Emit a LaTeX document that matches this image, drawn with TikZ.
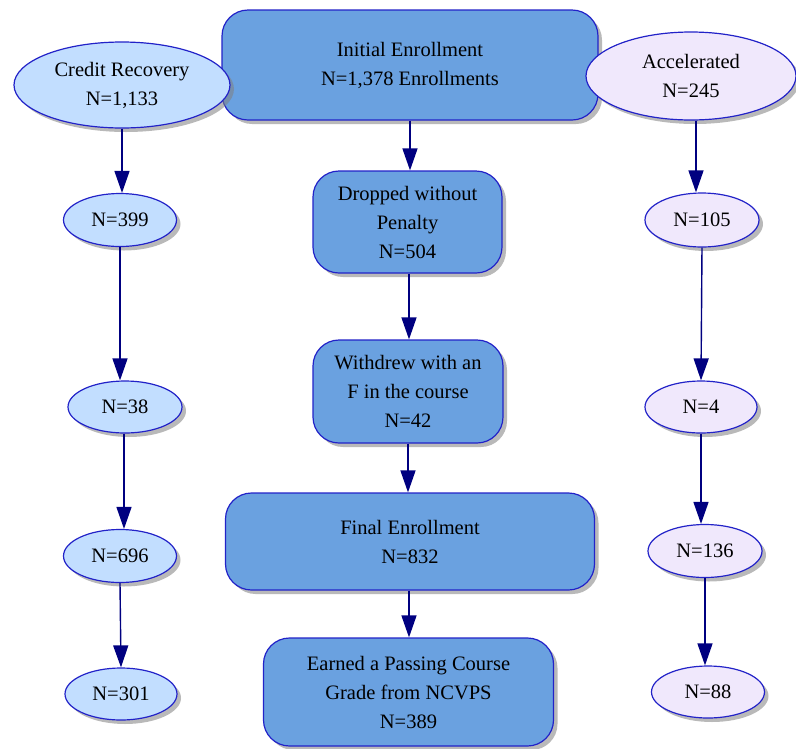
\documentclass[tikz,border=0pt]{standalone}
\usepackage{fontspec}
\setmainfont{Liberation Serif}
\usetikzlibrary{shapes.geometric,arrows.meta,shadows}
\definecolor{boxfill}{HTML}{6AA1E0}
\definecolor{edgeblue}{HTML}{2222C8}
\definecolor{lightL}{HTML}{C2DEFF}
\definecolor{lightR}{HTML}{F0E8FC}
\definecolor{navyline}{HTML}{000080}
\begin{document}
\begin{tikzpicture}[x=1pt,y=-1pt,
  base/.style={draw=edgeblue, line width=1.2pt, align=center, inner sep=0pt,
    font=\fontsize{20.5}{29}\selectfont,
    drop shadow={shadow xshift=4pt,shadow yshift=-4pt,fill=black!50,opacity=0.55}},
  box/.style={base, rectangle, rounded corners=26pt, fill=boxfill},
  ovalL/.style={base, ellipse, fill=lightL},
  ovalR/.style={base, ellipse, fill=lightR},
  flow/.style={draw=navyline, line width=1.4pt, -{Triangle[width=15pt,length=22pt]}}]
\useasboundingbox (0,0) rectangle (796,748);

% centre column
\node[box, minimum width=376pt, minimum height=110pt] (init) at (410,65) {Initial Enrollment\\N=1,378 Enrollments};
\node[box, minimum width=189pt, minimum height=102pt] (drop) at (407.5,222) {Dropped without\\Penalty\\N=504};
\node[box, minimum width=190pt, minimum height=103pt] (withdrew) at (408,391.5) {Withdrew with an\\F in the course\\N=42};
\node[box, minimum width=369pt, minimum height=97pt] (final) at (410,541.5) {Final Enrollment\\N=832};
\node[box, minimum width=290pt, minimum height=108pt] (earned) at (408.5,692) {Earned a Passing Course\\Grade from NCVPS\\N=389};

% left column
\node[ovalL, minimum width=216pt, minimum height=86pt] (cr) at (122,85) {Credit Recovery\\N=1,133};
\node[ovalL, minimum width=113pt, minimum height=53pt] (l1) at (120,220) {N=399};
\node[ovalL, minimum width=114pt, minimum height=52pt] (l2) at (125,407) {N=38};
\node[ovalL, minimum width=113pt, minimum height=53pt] (l3) at (120,556) {N=696};
\node[ovalL, minimum width=112pt, minimum height=52pt] (l4) at (121,694) {N=301};

% right column
\node[ovalR, minimum width=210pt, minimum height=88pt] (acc) at (691,76) {Accelerated\\N=245};
\node[ovalR, minimum width=114pt, minimum height=54pt] (r1) at (702,220) {N=105};
\node[ovalR, minimum width=112pt, minimum height=52pt] (r2) at (701,407) {N=4};
\node[ovalR, minimum width=114pt, minimum height=53pt] (r3) at (705,551) {N=136};
\node[ovalR, minimum width=113pt, minimum height=52pt] (r4) at (708,692) {N=88};

% connectors
\draw[flow] (init.south) -- (init.south |- drop.north);
\draw[flow] ([xshift=1.5pt]drop.south) -- ([xshift=1.5pt]drop.north |- withdrew.north);
\draw[flow] (withdrew.south) -- (withdrew.south |- final.north);
\draw[flow] ([xshift=-1pt]final.south) -- ([xshift=-1pt]final.south |- earned.north);

\draw[flow] (cr.south) -- ([xshift=2pt]l1.north);
\draw[flow] (l1.south) -- ([xshift=-5pt]l2.north);
\draw[flow] ([xshift=-1pt]l2.south) -- ([xshift=4pt]l3.north);
\draw[flow] (l3.south) -- (l4.north);

\draw[flow] ([xshift=5pt]acc.south) -- ([xshift=-6pt]r1.north);
\draw[flow] (r1.south) -- (r2.north);
\draw[flow] (r2.south) -- ([xshift=-4pt]r3.north);
\draw[flow] (r3.south) -- ([xshift=-3pt]r4.north);
\end{tikzpicture}
\end{document}
